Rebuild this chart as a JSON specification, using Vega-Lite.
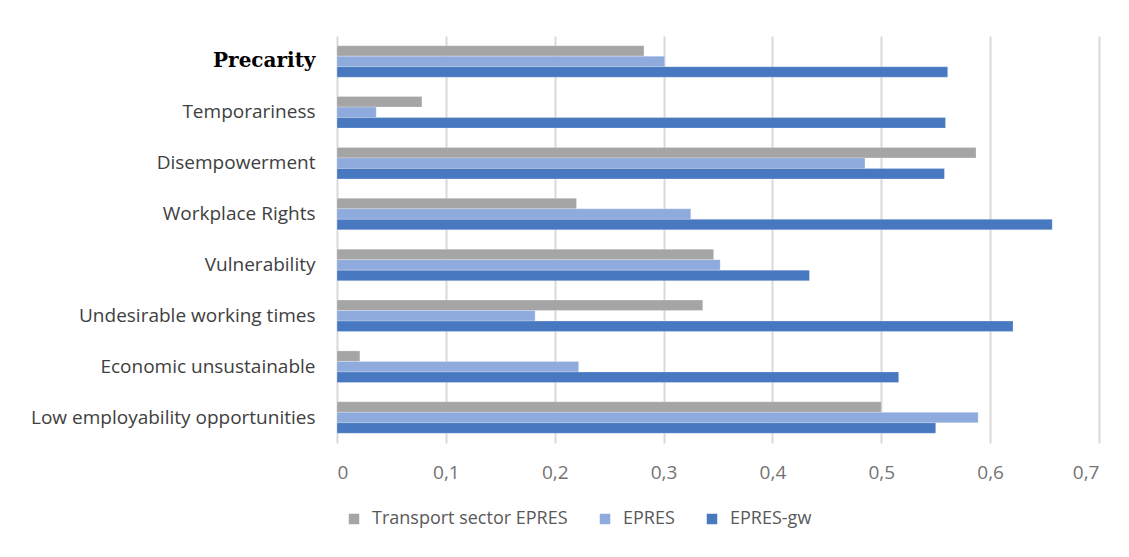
{
  "$schema": "https://vega.github.io/schema/vega-lite/v6.json",
  "autosize": {"type": "none"},
  "width": 762,
  "height": 407,
  "padding": {"left": 337, "top": 36, "right": 30, "bottom": 114},
  "background": "white",
  "data": {
    "values": [
      {"category": "Precarity", "series": "Transport sector EPRES", "value": 0.282},
      {"category": "Precarity", "series": "EPRES", "value": 0.301},
      {"category": "Precarity", "series": "EPRES-gw", "value": 0.561},
      {"category": "Temporariness", "series": "Transport sector EPRES", "value": 0.078},
      {"category": "Temporariness", "series": "EPRES", "value": 0.036},
      {"category": "Temporariness", "series": "EPRES-gw", "value": 0.559},
      {"category": "Disempowerment", "series": "Transport sector EPRES", "value": 0.587},
      {"category": "Disempowerment", "series": "EPRES", "value": 0.485},
      {"category": "Disempowerment", "series": "EPRES-gw", "value": 0.558},
      {"category": "Workplace Rights", "series": "Transport sector EPRES", "value": 0.22},
      {"category": "Workplace Rights", "series": "EPRES", "value": 0.325},
      {"category": "Workplace Rights", "series": "EPRES-gw", "value": 0.657},
      {"category": "Vulnerability", "series": "Transport sector EPRES", "value": 0.346},
      {"category": "Vulnerability", "series": "EPRES", "value": 0.352},
      {"category": "Vulnerability", "series": "EPRES-gw", "value": 0.434},
      {"category": "Undesirable working times", "series": "Transport sector EPRES", "value": 0.336},
      {"category": "Undesirable working times", "series": "EPRES", "value": 0.182},
      {"category": "Undesirable working times", "series": "EPRES-gw", "value": 0.621},
      {"category": "Economic unsustainable", "series": "Transport sector EPRES", "value": 0.021},
      {"category": "Economic unsustainable", "series": "EPRES", "value": 0.222},
      {"category": "Economic unsustainable", "series": "EPRES-gw", "value": 0.516},
      {"category": "Low employability opportunities", "series": "Transport sector EPRES", "value": 0.5},
      {"category": "Low employability opportunities", "series": "EPRES", "value": 0.589},
      {"category": "Low employability opportunities", "series": "EPRES-gw", "value": 0.55}
    ]
  },
  "mark": {"type": "bar", "stroke": "white", "strokeWidth": 0.4, "strokeOpacity": 0.6},
  "encoding": {
    "y": {
      "field": "category",
      "type": "nominal",
      "sort": null,
      "title": null,
      "scale": {"paddingInner": 0.38, "paddingOuter": 0.19},
      "axis": {
        "domain": false,
        "ticks": false,
        "labelPadding": 22,
        "labelFont": {"condition": {"test": "datum.value == 'Precarity'", "value": "DejaVu Serif"}, "value": "Open Sans"},
        "labelFontWeight": {"condition": {"test": "datum.value == 'Precarity'", "value": "bold"}, "value": "normal"},
        "labelFontSize": {"condition": {"test": "datum.value == 'Precarity'", "value": 20}, "value": 19},
        "labelColor": {"condition": {"test": "datum.value == 'Precarity'", "value": "#000000"}, "value": "#404040"},
        "labelLimit": 400
      }
    },
    "yOffset": {
      "field": "series",
      "type": "nominal",
      "sort": ["Transport sector EPRES", "EPRES", "EPRES-gw"],
      "scale": {"paddingInner": 0, "paddingOuter": 0}
    },
    "x": {
      "field": "value",
      "type": "quantitative",
      "title": null,
      "scale": {"domain": [0, 0.7], "nice": false, "zero": true},
      "axis": {
        "values": [0, 0.1, 0.2, 0.3, 0.4, 0.5, 0.6, 0.7],
        "labelExpr": "datum.value == 0 ? '0' : replace(format(datum.value, '.1f'), '.', ',')",
        "domain": false,
        "ticks": false,
        "grid": true,
        "gridColor": "#d9d9d9",
        "gridWidth": 2,
        "labelFont": "Open Sans",
        "labelFontSize": 19,
        "labelColor": "#737373",
        "labelPadding": 20
      }
    },
    "color": {
      "field": "series",
      "type": "nominal",
      "sort": ["Transport sector EPRES", "EPRES", "EPRES-gw"],
      "scale": {
        "domain": ["Transport sector EPRES", "EPRES", "EPRES-gw"],
        "range": ["#a5a5a5", "#8faadc", "#4878c0"]
      },
      "legend": {
        "title": null,
        "orient": "none",
        "direction": "horizontal",
        "legendX": 8,
        "legendY": 474,
        "symbolType": "square",
        "symbolSize": 110,
        "symbolStrokeWidth": 0,
        "labelFont": "Open Sans",
        "labelFontSize": 18,
        "labelColor": "#595959",
        "labelOffset": 9,
        "labelLimit": 400,
        "columnPadding": 28
      }
    }
  },
  "config": {
    "view": {"stroke": null}
  }
}
